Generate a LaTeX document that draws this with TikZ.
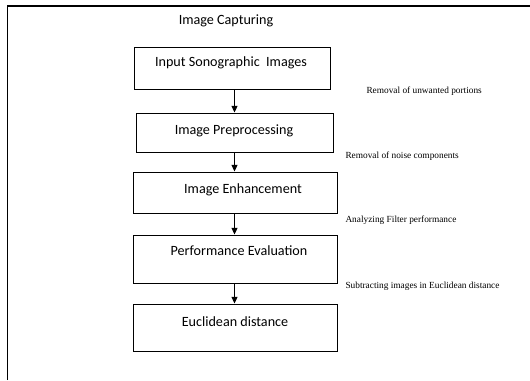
\documentclass[tikz,border=0pt]{standalone}
\usepackage{fontspec}
\setmainfont{Carlito}
\newfontfamily\notefont{Liberation Serif}
\usetikzlibrary{arrows.meta}

\tikzset{every picture/.style={line width=0.75pt}}
\tikzset{
  stagebox/.style={draw, minimum width=#1, inner sep=0pt},
  stagetext/.style={font=\fontsize{10.6}{13}\selectfont},
  notetext/.style={font=\notefont\fontsize{7}{8}\selectfont, anchor=west, inner sep=0pt},
  flowarrow/.style={-{Triangle[width=4.5pt,length=5pt]}}
}

\begin{document}
\begin{tikzpicture}[x=0.75pt,y=0.75pt,yscale=-1,xscale=1]
\useasboundingbox (0,0) rectangle (530,380);

%Shape: Frame
\draw [line width=1.1pt] (7.5,380) -- (7.5,6) -- (530,6) ;

% Text Node
\node [stagetext] (capt) at (226,21) {Image Capturing};

%Shape: Rectangle
\node [stagebox=196*0.75pt, minimum height=42*0.75pt] (b1) at (232,68) {};
\node [stagetext] (t1) at (231,63) {Input Sonographic\ \ Images};
%Shape: Rectangle
\node [stagebox=197*0.75pt, minimum height=39*0.75pt] (b2) at (234.5,132.5) {};
\node [stagetext] (t2) at (234,131) {Image Preprocessing};
%Shape: Rectangle
\node [stagebox=204*0.75pt, minimum height=41*0.75pt] (b3) at (235,192.5) {};
\node [stagetext] (t3) at (243,190) {Image Enhancement};
%Shape: Rectangle
\node [stagebox=204*0.75pt, minimum height=48*0.75pt] (b4) at (235,259) {};
\node [stagetext] (t4) at (239,251) {Performance Evaluation};
%Shape: Rectangle
\node [stagebox=204*0.75pt, minimum height=47*0.75pt] (b5) at (235,327.5) {};
\node [stagetext] (t5) at (235,322) {Euclidean distance};

% Arrows
\draw [flowarrow] (b1.south -| b2.north) -- (b2.north) ;
\draw [flowarrow] (b2.south) -- (b2.south |- b3.north) ;
\draw [flowarrow] (b2.south |- b3.south) -- (b2.south |- b4.north) ;
\draw [flowarrow] (b2.south |- b4.south) -- (b2.south |- b5.north) ;

% Text Node
\node [notetext] (n1) at (366,91) {Removal of unwanted portions};
% Text Node
\node [notetext] (n2) at (345,156) {Removal of noise components};
% Text Node
\node [notetext] (n3) at (345,220) {Analyzing Filter performance};
% Text Node
\node [notetext] (n4) at (345,286) {Subtracting images in Euclidean distance};

\end{tikzpicture}
\end{document}
